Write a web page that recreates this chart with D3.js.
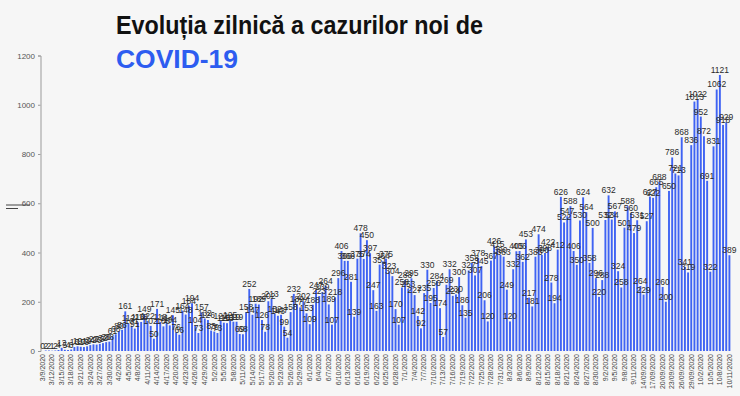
<!DOCTYPE html>
<html>
<head>
<meta charset="utf-8">
<script src="https://cdn.jsdelivr.net/npm/d3@7"></script>
<style>
  html, body { margin: 0; padding: 0; background: #f6f6f6; }
  svg { display: block; font-family: "Liberation Sans", Arial, sans-serif; }
</style>
</head>
<body>
<svg id="chart" width="740" height="396"></svg>
<script>
// first and last day of the series (one bar per day)
const startDay = new Date(2020, 2, 9);
const endDay = new Date(2020, 9, 11);

// daily new cases, 3/9/2020 .. 10/11/2020
const newCases = [
  0, 2, 2, 1, 2, 4, 13, 5, 4, 6,
  16, 19, 17, 16, 19, 24, 27, 26, 29, 32,
  36, 38, 61, 68, 80, 86, 161, 112, 101, 91,
  116, 118, 149, 122, 102, 50, 171, 118, 100, 114,
  104, 145, 76, 66, 164, 148, 184, 194, 104, 73,
  157, 132, 126, 83, 79, 73, 122, 115, 113, 125,
  119, 119, 69, 68, 158, 252, 147, 192, 189, 126,
  78, 202, 213, 152, 143, 147, 99, 54, 158, 232,
  189, 177, 202, 153, 109, 188, 247, 223, 239, 264,
  189, 107, 218, 296, 406, 366, 366, 281, 139, 375,
  478, 374, 450, 397, 247, 163, 351, 364, 375, 323,
  304, 170, 107, 258, 288, 253, 295, 227, 142, 92,
  235, 330, 195, 256, 284, 174, 57, 269, 332, 224,
  230, 300, 186, 135, 327, 358, 307, 378, 345, 206,
  120, 367, 426, 415, 390, 383, 249, 120, 332, 405,
  406, 362, 453, 217, 181, 383, 474, 390, 398, 422,
  278, 194, 412, 626, 522, 547, 588, 406, 350, 530,
  624, 564, 358, 500, 296, 220, 288, 532, 632, 534,
  567, 324, 258, 501, 588, 560, 479, 531, 264, 229,
  527, 627, 622, 665, 688, 260, 200, 650, 786, 721,
  713, 868, 341, 319, 836, 1013, 1022, 952, 872, 691,
  322, 831, 1062, 1121, 918, 929, 389
];

// x tick labels, one every third day (formats as in the source sheet)
const tickLabels = [
  '3/9/2020', '3/12/2020', '3/15/2020', '3/18/2020', '3/21/2020', '3/24/2020', '3/27/2020', '3/30/2020',
  '4/2/2020', '4/5/2020', '4/8/2020', '4/11/2020', '4/14/2020', '4/17/2020', '4/20/2020', '4/23/2020', '4/26/2020', '4/29/2020',
  '5/2/2020', '5/5/2020', '5/8/2020', '5/11/2020', '5/14/2020', '5/17/2020', '5/20/2020', '5/23/2020', '5/26/2020', '5/29/2020',
  '6/1/2020', '6/4/2020', '6/7/2020', '6/10/2020', '6/13/2020', '6/16/2020', '6/19/2020', '6/22/2020', '6/25/2020', '6/28/2020',
  '7/1/2020', '7/4/2020', '7/7/2020', '7/10/2020', '7/13/2020', '7/16/2020', '7/19/2020', '7/22/2020', '7/25/2020', '7/28/2020', '7/31/2020',
  '8/3/2020', '8/6/2020', '8/9/2020', '8/12/2020', '8/15/2020', '8/18/2020', '8/21/2020', '8/24/2020', '8/27/2020', '8/30/2020',
  '9/2/2020', '9/5/2020', '9/8/2020', '9/11/2020', '14/09/2020', '17/09/2020', '20/09/2020', '23/09/2020', '26/09/2020', '29/09/2020',
  '10/2/2020', '10/5/2020', '10/8/2020', '10/11/2020'
];

const yTicks = [0, 200, 400, 600, 800, 1000, 1200];

const days = d3.timeDay.range(startDay, d3.timeDay.offset(endDay, 1));
const data = days.map((d, i) => ({ i, day: d, value: newCases[i] }));

const svg = d3.select('#chart');

// title
svg.append('text')
  .attr('x', 116).attr('y', 34)
  .attr('font-size', 26).attr('font-weight', 'bold')
  .attr('fill', '#111')
  .attr('textLength', 367).attr('lengthAdjust', 'spacingAndGlyphs')
  .text('Evoluția zilnică a cazurilor noi de');
svg.append('text')
  .attr('x', 116).attr('y', 68)
  .attr('font-size', 26).attr('font-weight', 'bold')
  .attr('fill', '#2d5cf0')
  .attr('textLength', 122).attr('lengthAdjust', 'spacingAndGlyphs')
  .text('COVID-19');

const x = d3.scaleBand()
  .domain(data.map(d => d.i))
  .range([41, 731])
  .paddingInner(0.4)
  .paddingOuter(0.2);

const y = d3.scaleLinear().domain([0, 1200]).range([351, 55.5]);

// y axis
const yAxis = svg.append('g')
  .attr('transform', 'translate(40.5,0)')
  .call(d3.axisLeft(y).tickValues(yTicks).tickFormat(d3.format('d')).tickSize(2.5).tickPadding(3));
yAxis.selectAll('path, line').attr('stroke', '#9a9a9a');
yAxis.selectAll('text').attr('font-size', 8).attr('fill', '#555')
  .attr('font-family', '"Liberation Sans", Arial, sans-serif');

// small double mark left of the axis, at the 600 label
svg.append('line').attr('x1', 6).attr('x2', 30).attr('y1', 205).attr('y2', 205)
  .attr('stroke', '#444').attr('stroke-width', 1);
svg.append('line').attr('x1', 6).attr('x2', 18).attr('y1', 208.5).attr('y2', 208.5)
  .attr('stroke', '#444').attr('stroke-width', 1);

// bars
svg.append('g')
  .selectAll('rect')
  .data(data)
  .join('rect')
  .attr('x', d => x(d.i))
  .attr('y', d => y(d.value))
  .attr('width', x.bandwidth())
  .attr('height', d => y(0) - y(d.value))
  .attr('fill', '#3f63f3');

// value labels
svg.append('g')
  .selectAll('text')
  .data(data)
  .join('text')
  .attr('x', d => x(d.i) + x.bandwidth() / 2)
  .attr('y', d => y(d.value) - 2)
  .attr('text-anchor', 'middle')
  .attr('font-size', 8.5)
  .attr('fill', '#2a2a2a')
  .text(d => d.value);

// x axis labels, every third day
const tickIdx = tickLabels.map((t, k) => k * 3);
const xAxis = svg.append('g')
  .attr('transform', 'translate(0,351)')
  .call(d3.axisBottom(x).tickValues(tickIdx).tickSize(0).tickPadding(0)
    .tickFormat((d, k) => tickLabels[k]));
xAxis.select('.domain').remove();
xAxis.selectAll('text')
  .attr('font-size', 7)
  .attr('fill', '#444')
  .attr('font-family', '"Liberation Sans", Arial, sans-serif')
  .attr('text-anchor', 'end')
  .attr('dy', '0.32em')
  .attr('transform', 'translate(0,3) rotate(-90)');
</script>
</body>
</html>
